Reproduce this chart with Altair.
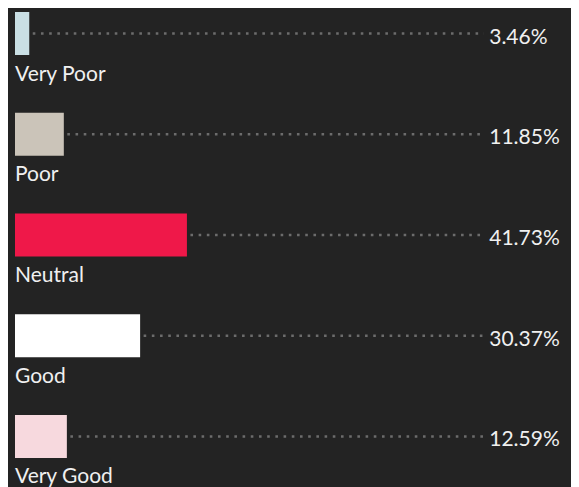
import altair as alt
import pandas as pd

categories = ["Very Poor", "Poor", "Neutral", "Good", "Very Good"]
values = [3.46, 11.85, 41.73, 30.37, 12.59]
colors = ["#c9dfe4", "#cbc4b9", "#ef1849", "#ffffff", "#f7d9de"]

df = pd.DataFrame({
    "cat": categories,
    "value": values,
    "label": [f"{v:.2f}%" for v in values],
})

FONT = "Lato"
BG = "#232323"

x = alt.X("value:Q", scale=alt.Scale(domain=[0, 100], nice=False, zero=True), axis=None)
y = alt.Y("cat:N", sort=categories,
          scale=alt.Scale(paddingInner=0.573, paddingOuter=0), axis=None)

base = alt.Chart(df)

dots = base.mark_rule(color="#6c6c6c", strokeWidth=2.6, strokeDash=[2.6, 5.6],
                      strokeDashOffset=4.7, strokeCap="butt").encode(
    x=x, x2=alt.datum(113.8), y=y
)

bars = base.mark_bar().encode(
    x=x, y=y,
    color=alt.Color("cat:N", scale=alt.Scale(domain=categories, range=colors), legend=None),
)

names = base.mark_text(align="left", baseline="alphabetic", dy=47, font=FONT,
                       fontSize=21, color="#f0f0f0").encode(
    x=alt.datum(0), y=y, text="cat:N"
)

pcts = base.mark_text(align="left", baseline="alphabetic", dy=10, font=FONT,
                      fontSize=21, color="#f0f0f0").encode(
    x=alt.datum(115.1), y=y, text="label:N"
)

chart = alt.layer(dots, bars, names, pcts).properties(
    width=412, height=446,
    background=BG,
    padding={"left": 7, "top": 4, "right": 144, "bottom": 40},
    autosize=alt.AutoSizeParams(type="none"),
).configure_view(stroke=None)

chart.save("out.html", embed_options={"renderer": "svg", "actions": False})
